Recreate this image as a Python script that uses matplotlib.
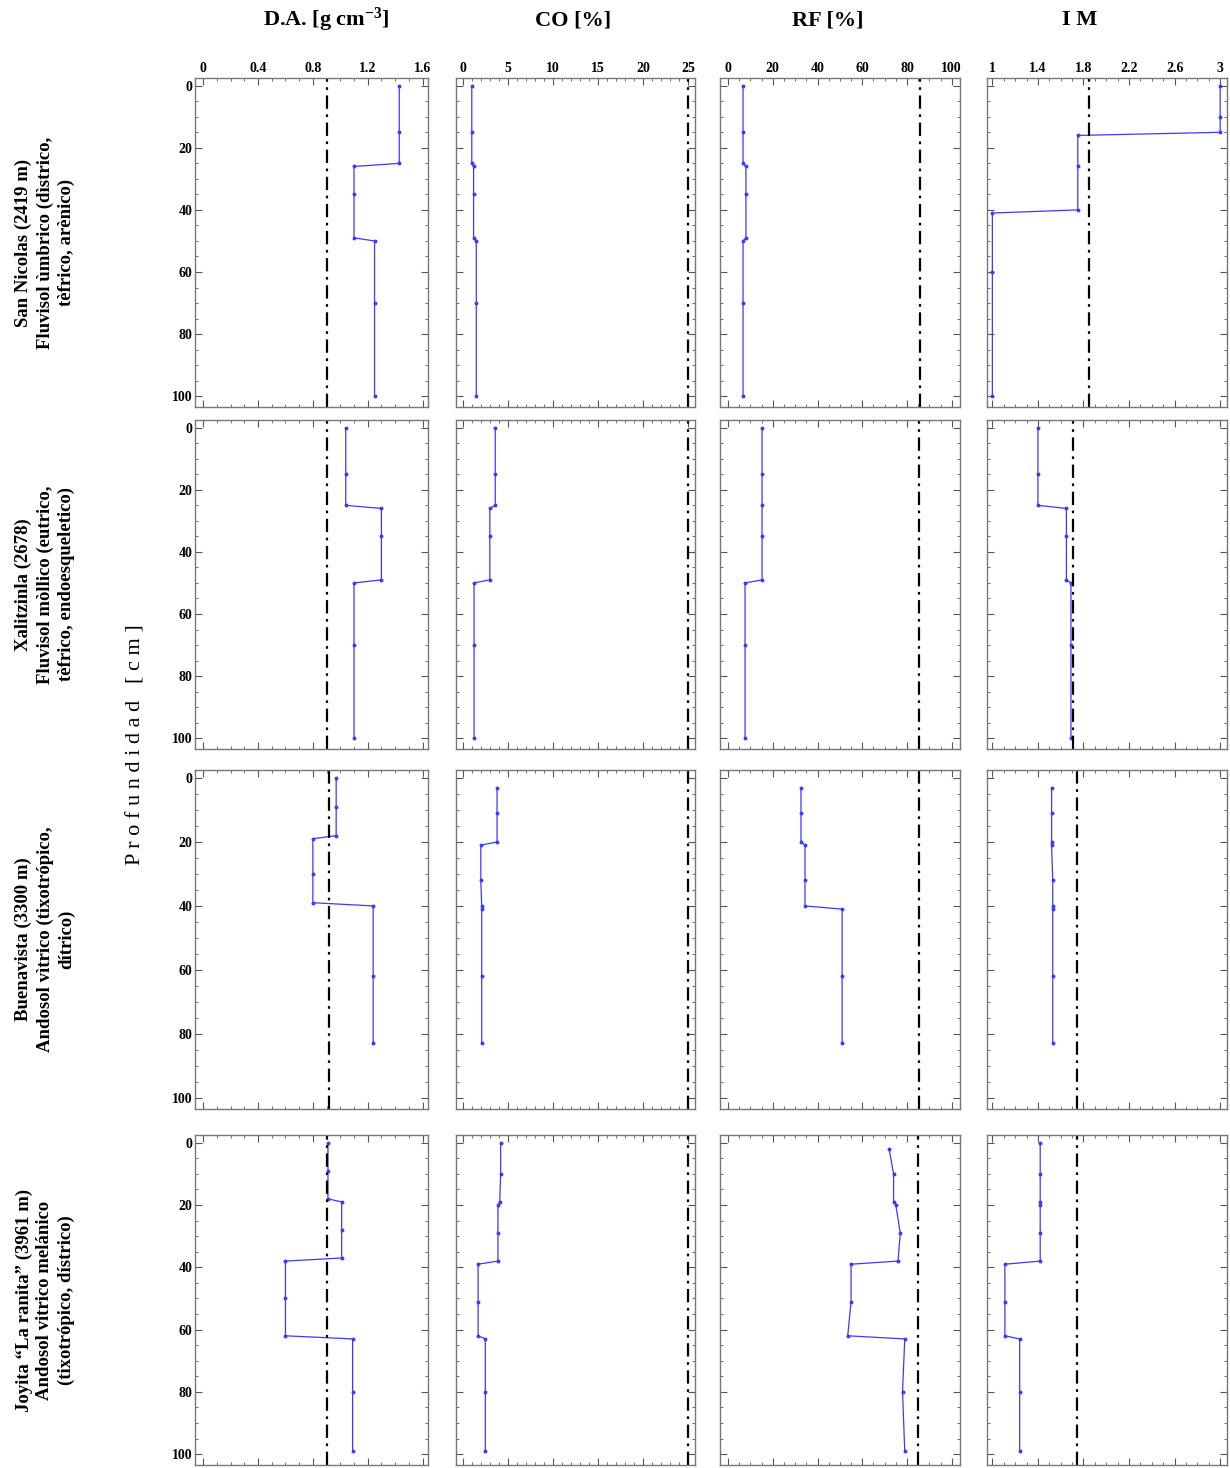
import matplotlib
matplotlib.use("Agg")
import matplotlib.pyplot as plt
from matplotlib.ticker import MultipleLocator, FixedLocator

# --- data (depth in cm) ---
site_labels = [
    "San Nicolas (2419 m)\nFluvisol ùmbrico (dìstrico,\ntèfrico, arènico)",
    "Xalitzinla (2678)\nFluvisol mòllico (eutrico,\ntèfrico, endoesqueletico)",
    "Buenavista (3300 m)\nAndosol vìtrico (tixotrópico,\ndítrico)",
    "Joyita \u201cLa ranita\u201d (3961 m)\nAndosol vitrico melánico\n(tixotrópico, dístrico)",
]
col_titles = ["D.A. [g cm$^{-3}$]", "CO [%]", "RF [%]", "I M"]

# San Nicolas
sn_depth = [0, 15, 25, 26, 35, 49, 50, 70, 100]
sn_da = [1.43, 1.43, 1.43, 1.10, 1.10, 1.10, 1.25, 1.25, 1.25]
sn_co = [1.0, 1.0, 1.0, 1.2, 1.2, 1.2, 1.5, 1.5, 1.5]
sn_rf = [6.7, 6.7, 6.7, 8.0, 8.0, 8.0, 6.7, 6.7, 6.7]
sn_im_depth = [0, 10, 15, 16, 26, 40, 41, 60, 100]
sn_im = [3.0, 3.0, 3.0, 1.75, 1.75, 1.75, 1.0, 1.0, 1.0]

# Xalitzinla
xa_depth = [0, 15, 25, 26, 35, 49, 50, 70, 100]
xa_da = [1.04, 1.04, 1.04, 1.30, 1.30, 1.30, 1.10, 1.10, 1.10]
xa_co = [3.6, 3.6, 3.6, 3.0, 3.0, 3.0, 1.25, 1.25, 1.25]
xa_rf_depth = [0, 15, 25, 35, 49, 50, 70, 100]
xa_rf = [15.2, 15.2, 15.2, 15.2, 15.2, 7.6, 7.6, 7.6]
xa_im = [1.40, 1.40, 1.40, 1.65, 1.65, 1.65, 1.69, 1.69, 1.69]

# Buenavista
bv_da_depth = [0, 9, 18, 19, 30, 39, 40, 62, 83]
bv_da = [0.97, 0.97, 0.97, 0.80, 0.80, 0.80, 1.24, 1.24, 1.24]
bv_depth = [3, 11, 20, 21, 32, 40, 41, 62, 83]
bv_co = [3.8, 3.8, 3.8, 2.0, 2.0, 2.1, 2.1, 2.1, 2.1]
bv_rf = [32.6, 32.6, 32.6, 34.4, 34.4, 34.4, 51.0, 51.0, 51.0]
bv_im = [1.52, 1.52, 1.52, 1.52, 1.53, 1.53, 1.53, 1.53, 1.53]

# Joyita
jo_da_depth = [0, 9, 18, 19, 28, 37, 38, 50, 62, 63, 80, 99]
jo_da = [0.91, 0.91, 0.91, 1.01, 1.01, 1.01, 0.60, 0.60, 0.60, 1.09, 1.09, 1.09]
jo_depth = [0, 10, 19, 20, 29, 38, 39, 51, 62, 63, 80, 99]
jo_co = [4.2, 4.2, 4.1, 3.9, 3.9, 3.9, 1.7, 1.7, 1.7, 2.5, 2.5, 2.5]
jo_rf_depth = [2, 10, 19, 20, 29, 38, 39, 51, 62, 63, 80, 99]
jo_rf = [72, 74, 74, 75, 77, 76, 55, 55, 53.5, 79, 78, 79]
jo_im = [1.42, 1.42, 1.42, 1.42, 1.42, 1.42, 1.11, 1.11, 1.11, 1.24, 1.24, 1.24]

# reference (dash-dot) values
ref_da = [0.9, 0.9, 0.92, 0.9]
ref_co = [25.0, 25.0, 25.0, 25.0]
ref_rf = [86.0, 85.5, 85.5, 85.0]
ref_im = [1.85, 1.71, 1.74, 1.74]

# tick labels per column
da_ticks = [0, 0.4, 0.8, 1.2, 1.6]
co_ticks = [0, 5, 10, 15, 20, 25]
rf_ticks = [0, 20, 40, 60, 80, 100]
im_ticks = [1, 1.4, 1.8, 2.2, 2.6, 3]
depth_ticks = [0, 20, 40, 60, 80, 100]

profiles = [
    [(sn_da, sn_depth), (sn_co, sn_depth), (sn_rf, sn_depth), (sn_im, sn_im_depth)],
    [(xa_da, xa_depth), (xa_co, xa_depth), (xa_rf, xa_rf_depth), (xa_im, xa_depth)],
    [(bv_da, bv_da_depth), (bv_co, bv_depth), (bv_rf, bv_depth), (bv_im, bv_depth)],
    [(jo_da, jo_da_depth), (jo_co, jo_depth), (jo_rf, jo_rf_depth), (jo_im, jo_depth)],
]
refs = [ref_da, ref_co, ref_rf, ref_im]
xticks = [da_ticks, co_ticks, rf_ticks, im_ticks]

# axis settings per column
xlims = [(-0.06, 1.64), (-0.75, 25.75), (-3.6, 103.7), (0.953, 3.06)]
xminor = [0.1, 1, 5, 0.1]

# layout in pixels
W, H = 1230, 1468
col_px = [(195, 428), (456, 695), (720, 960), (987, 1227)]
row_px = [(78, 407), (420, 749), (770, 1109), (1135, 1465)]
title_x = [326, 573, 828, 1080]

plt.rcParams["font.family"] = ["Liberation Serif", "DejaVu Serif"]
plt.rcParams["mathtext.fontset"] = "custom"
plt.rcParams["mathtext.rm"] = "Liberation Serif:bold"
plt.rcParams["mathtext.default"] = "rm"

fig = plt.figure(figsize=(W / 100, H / 100), dpi=100)

for r in range(4):
    for c in range(4):
        x0, x1 = col_px[c]
        y0, y1 = row_px[r]
        ax = fig.add_axes([x0 / W, 1 - y1 / H, (x1 - x0) / W, (y1 - y0) / H])
        vals, depth = profiles[r][c]
        ax.plot(vals, depth, color="#3a3aff", lw=0.9, marker="o", ms=1.8)
        ax.axvline(refs[c][r], color="black", lw=1.6, ls=(0, (6, 2.5, 1.2, 2.5)))
        ax.set_xlim(*xlims[c])
        ax.set_ylim(103.5, -2.5)
        ax.xaxis.set_major_locator(FixedLocator(xticks[c]))
        ax.xaxis.set_minor_locator(MultipleLocator(xminor[c]))
        ax.set_xticklabels(["{:g}".format(t) for t in xticks[c]])
        ax.yaxis.set_major_locator(FixedLocator(depth_ticks))
        ax.yaxis.set_minor_locator(MultipleLocator(5))
        ax.tick_params(which="both", direction="in", top=True, bottom=True, left=True, right=True,
                       labeltop=(r == 0), labelbottom=False, labelleft=(c == 0), color="#555555")
        ax.tick_params(which="major", length=5, width=0.8, labelsize=10, pad=2)
        ax.tick_params(which="minor", length=2.5, width=0.6)
        for lab in ax.get_xticklabels() + ax.get_yticklabels():
            lab.set_fontweight("bold")
        for sp in ax.spines.values():
            sp.set_color("#777777")
            sp.set_linewidth(1.0)

# column titles
for c, title in enumerate(col_titles):
    fig.text(title_x[c] / W, 1 - 20 / H, title, ha="center", va="center", fontsize=16, fontweight="bold")

# row labels
for r, lab in enumerate(site_labels):
    yc = 1 - (row_px[r][0] + row_px[r][1]) / 2 / H
    fig.text(45 / W, yc, lab, ha="center", va="center", rotation=90, fontsize=13.5,
             fontweight="bold", linespacing=1.3, multialignment="center")

fig.text(136 / W, 1 - 745 / H, "P r o f u n d i d a d   [ c m ]", ha="center", va="center",
         rotation=90, fontsize=16)

fig.savefig("out.png", dpi=100, facecolor="white")
